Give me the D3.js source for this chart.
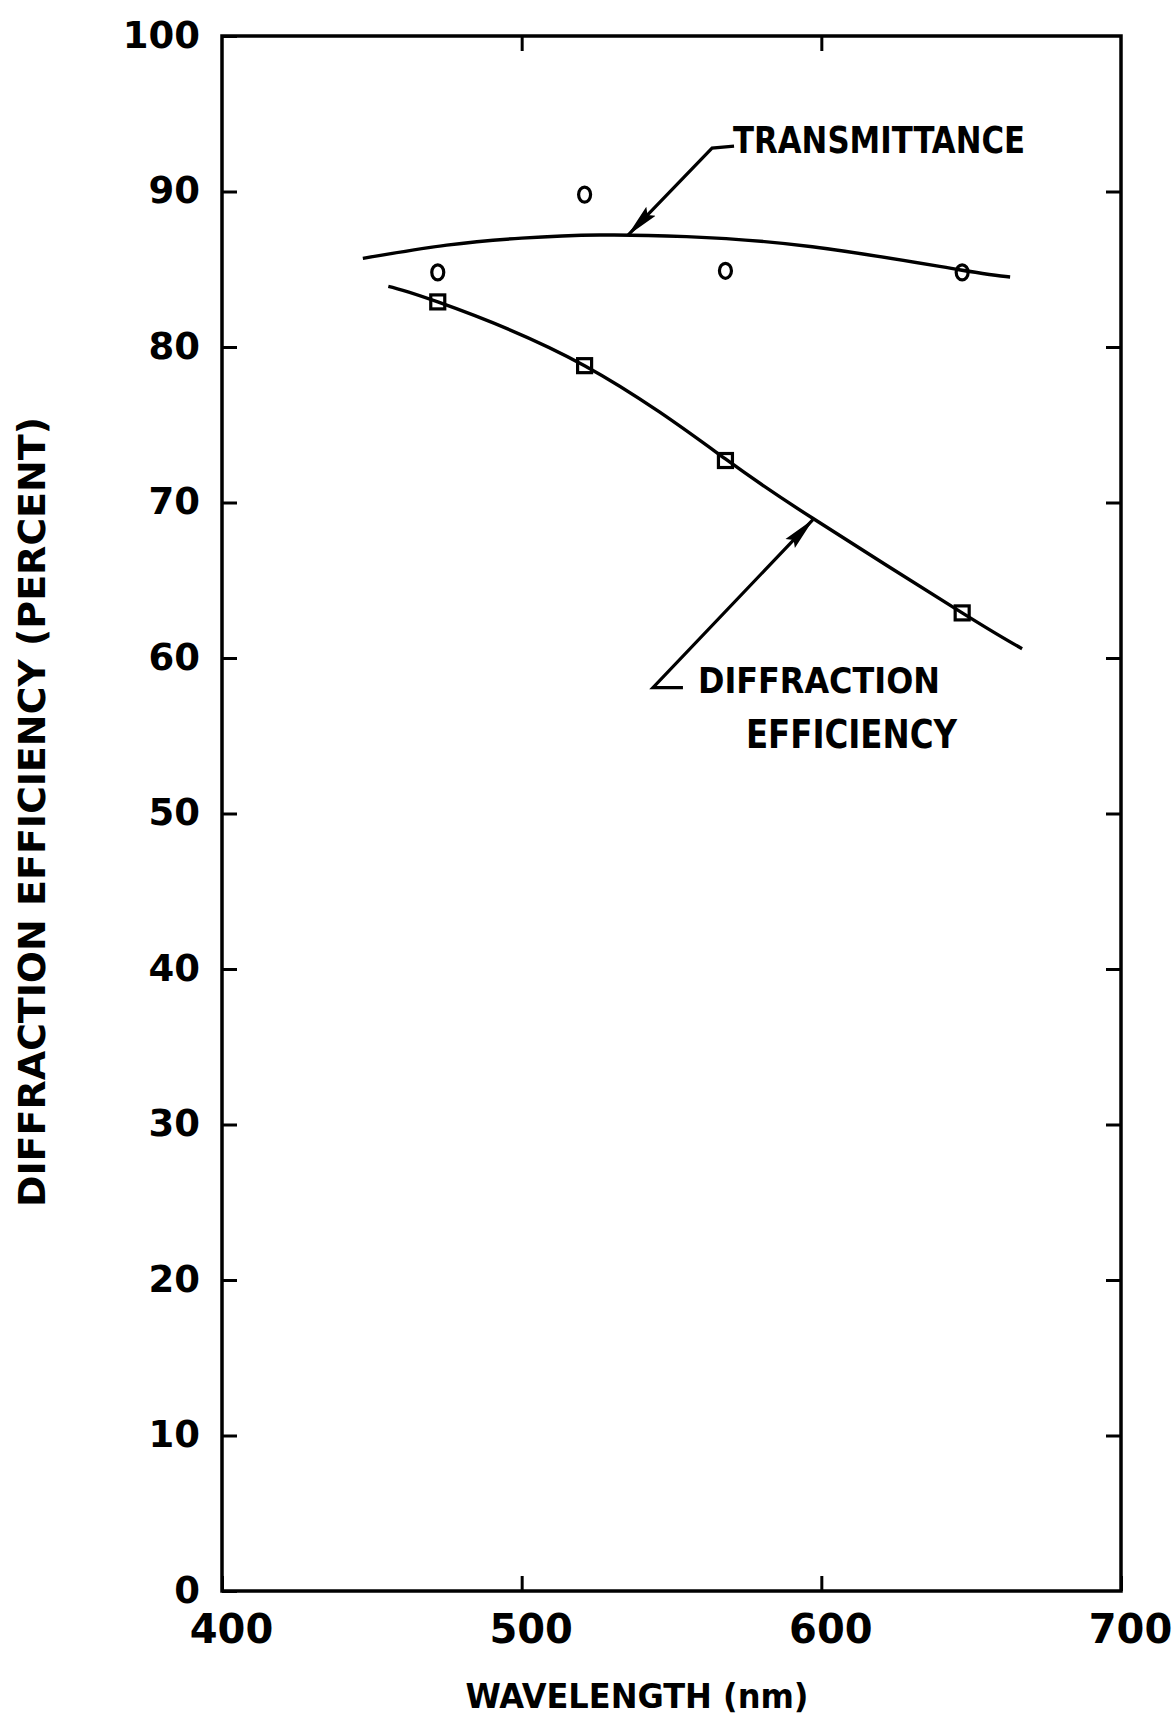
<!DOCTYPE html>
<html>
<head>
<meta charset="utf-8">
<script src="https://cdn.jsdelivr.net/npm/d3@7"></script>
<style>
  body { margin: 0; background: #fff; }
  svg text { font-family: "DejaVu Sans", sans-serif; font-weight: bold; fill: #000; }
  .lettering { font-family: "DejaVu Sans Condensed", "DejaVu Sans", sans-serif; font-stretch: condensed; }
</style>
</head>
<body>
<svg id="chart" width="1172" height="1719"></svg>
<script>
// Axis ticks
const wavelengthTicks = [400, 500, 600, 700];
const percentTicks = [0, 10, 20, 30, 40, 50, 60, 70, 80, 90, 100];

// Measured points: wavelength (nm), percent
const transmittanceWavelengths = [472, 521, 568, 647];
const transmittanceValues = [84.8, 89.8, 84.9, 84.8];
const efficiencyWavelengths = [472, 521, 568, 647];
const efficiencyValues = [82.9, 78.8, 72.7, 62.9];

// Hand-drawn smooth curves through the measurements
const transmittanceCurveWavelengths = [447, 475, 500, 526, 555, 597, 646, 663];
const transmittanceCurveValues = [85.7, 86.55, 87.0, 87.2, 87.1, 86.45, 84.97, 84.5];
const efficiencyCurveWavelengths = [455.5, 472, 521, 568, 597, 647, 667];
const efficiencyCurveValues = [83.9, 82.9, 78.8, 72.8, 69.0, 62.9, 60.6];

// Curve labels and the points their arrows touch
const transmittanceLabel = "TRANSMITTANCE";
const transmittanceArrowTip = [535.5, 87.2];
const efficiencyLabelLines = ["DIFFRACTION", "EFFICIENCY"];
const efficiencyArrowTip = [597.2, 68.9];

const xTitle = "WAVELENGTH (nm)";
const yTitle = "DIFFRACTION EFFICIENCY (PERCENT)";

const zip = (xs, ys) => xs.map((v, i) => [v, ys[i]]);

(function draw() {
  const svg = d3.select("#chart");
  const plotLeft = 222, plotRight = 1121, plotTop = 36, plotBottom = 1591;

  const x = d3.scaleLinear().domain([400, 700]).range([plotLeft, plotRight]);
  const y = d3.scaleLinear().domain([0, 100]).range([plotBottom, plotTop]);

  const tickLen = 15;

  // Left axis with labels
  const gLeft = svg.append("g").attr("transform", `translate(${plotLeft},0)`)
    .call(d3.axisLeft(y).tickValues(percentTicks).tickSizeInner(-tickLen).tickSizeOuter(0).tickPadding(22));
  // Bottom axis with labels
  const gBottom = svg.append("g").attr("transform", `translate(0,${plotBottom})`)
    .call(d3.axisBottom(x).tickValues(wavelengthTicks).tickSizeInner(-tickLen).tickSizeOuter(0).tickPadding(22));
  // Top and right ticks, unlabeled
  const gTop = svg.append("g").attr("transform", `translate(0,${plotTop})`)
    .call(d3.axisTop(x).tickValues([500, 600]).tickSizeInner(-tickLen).tickSizeOuter(0).tickFormat(""));
  const gRight = svg.append("g").attr("transform", `translate(${plotRight},0)`)
    .call(d3.axisRight(y).tickValues(percentTicks.slice(1, -1)).tickSizeInner(-tickLen).tickSizeOuter(0).tickFormat(""));

  [gLeft, gBottom, gTop, gRight].forEach(g => {
    g.select(".domain").remove();
    g.selectAll(".tick line").attr("stroke", "#000").attr("stroke-width", 3);
  });
  gLeft.selectAll(".tick text").attr("font-size", 37).attr("font-family", "Liberation Sans, Arial, sans-serif")
    .attr("font-weight", "bold").attr("dy", "0.3em");
  gBottom.selectAll(".tick text").attr("font-size", 40).attr("font-family", "Liberation Sans, Arial, sans-serif")
    .attr("font-weight", "bold").attr("dx", 9).attr("dy", "0.74em");

  // Frame
  svg.append("rect")
    .attr("x", plotLeft).attr("y", plotTop)
    .attr("width", plotRight - plotLeft).attr("height", plotBottom - plotTop)
    .attr("fill", "none").attr("stroke", "#000").attr("stroke-width", 3.5);

  // Curves
  const line = d3.line().x(d => x(d[0])).y(d => y(d[1])).curve(d3.curveNatural);
  svg.append("path")
    .datum(zip(transmittanceCurveWavelengths, transmittanceCurveValues))
    .attr("d", line).attr("fill", "none").attr("stroke", "#000").attr("stroke-width", 3.4);
  svg.append("path")
    .datum(zip(efficiencyCurveWavelengths, efficiencyCurveValues))
    .attr("d", line).attr("fill", "none").attr("stroke", "#000").attr("stroke-width", 3.4);

  // Markers: circles for transmittance, squares for diffraction efficiency
  svg.append("g").selectAll("ellipse")
    .data(zip(transmittanceWavelengths, transmittanceValues))
    .join("ellipse")
    .attr("cx", d => x(d[0])).attr("cy", d => y(d[1]))
    .attr("rx", 6).attr("ry", 7.5)
    .attr("fill", "none").attr("stroke", "#000").attr("stroke-width", 3.2);

  const sq = 14;
  svg.append("g").selectAll("rect")
    .data(zip(efficiencyWavelengths, efficiencyValues))
    .join("rect")
    .attr("x", d => x(d[0]) - sq / 2).attr("y", d => y(d[1]) - sq / 2)
    .attr("width", sq).attr("height", sq)
    .attr("fill", "none").attr("stroke", "#000").attr("stroke-width", 3.2);

  // Arrowhead
  svg.append("defs").append("marker")
    .attr("id", "dart")
    .attr("viewBox", "0 0 34 16")
    .attr("refX", 33).attr("refY", 8)
    .attr("markerWidth", 34).attr("markerHeight", 16)
    .attr("markerUnits", "userSpaceOnUse")
    .attr("orient", "auto")
    .append("path")
    .attr("d", "M0,1.5 L34,8 L0,14.5 L5,8 Z")
    .attr("fill", "#000");

  // Transmittance annotation
  const tTip = [x(transmittanceArrowTip[0]), y(transmittanceArrowTip[1])];
  const tElbow = [tTip[0] + 84, tTip[1] - 87];
  svg.append("path")
    .attr("d", d3.line()([[tElbow[0] + 22, tElbow[1] - 2], tElbow, tTip]))
    .attr("fill", "none").attr("stroke", "#000").attr("stroke-width", 3.2)
    .attr("marker-end", "url(#dart)");
  svg.append("text").attr("class", "lettering")
    .attr("x", tElbow[0] + 21).attr("y", tElbow[1] + 5)
    .attr("font-size", 38)
    .attr("textLength", 292).attr("lengthAdjust", "spacingAndGlyphs")
    .text(transmittanceLabel);

  // Diffraction efficiency annotation
  const eTip = [x(efficiencyArrowTip[0]), y(efficiencyArrowTip[1])];
  const eElbow = [eTip[0] - 160, eTip[1] + 168];
  svg.append("path")
    .attr("d", d3.line()([[eElbow[0] + 30, eElbow[1]], eElbow, eTip]))
    .attr("fill", "none").attr("stroke", "#000").attr("stroke-width", 3.2)
    .attr("marker-end", "url(#dart)");
  svg.append("text").attr("class", "lettering")
    .attr("x", eElbow[0] + 45).attr("y", eElbow[1] + 5)
    .attr("font-size", 36)
    .attr("textLength", 242).attr("lengthAdjust", "spacingAndGlyphs")
    .text(efficiencyLabelLines[0]);
  svg.append("text").attr("class", "lettering")
    .attr("x", eElbow[0] + 93).attr("y", eElbow[1] + 60)
    .attr("font-size", 39)
    .attr("textLength", 211).attr("lengthAdjust", "spacingAndGlyphs")
    .text(efficiencyLabelLines[1]);

  // Axis titles
  svg.append("text").attr("class", "lettering")
    .attr("x", 637).attr("y", 1708)
    .attr("text-anchor", "middle")
    .attr("font-size", 34)
    .attr("textLength", 343).attr("lengthAdjust", "spacingAndGlyphs")
    .text(xTitle);
  svg.append("text").attr("class", "lettering")
    .attr("transform", "translate(45,812) rotate(-90)")
    .attr("text-anchor", "middle")
    .attr("font-size", 37)
    .attr("textLength", 790).attr("lengthAdjust", "spacingAndGlyphs")
    .text(yTitle);
})();
</script>
</body>
</html>
